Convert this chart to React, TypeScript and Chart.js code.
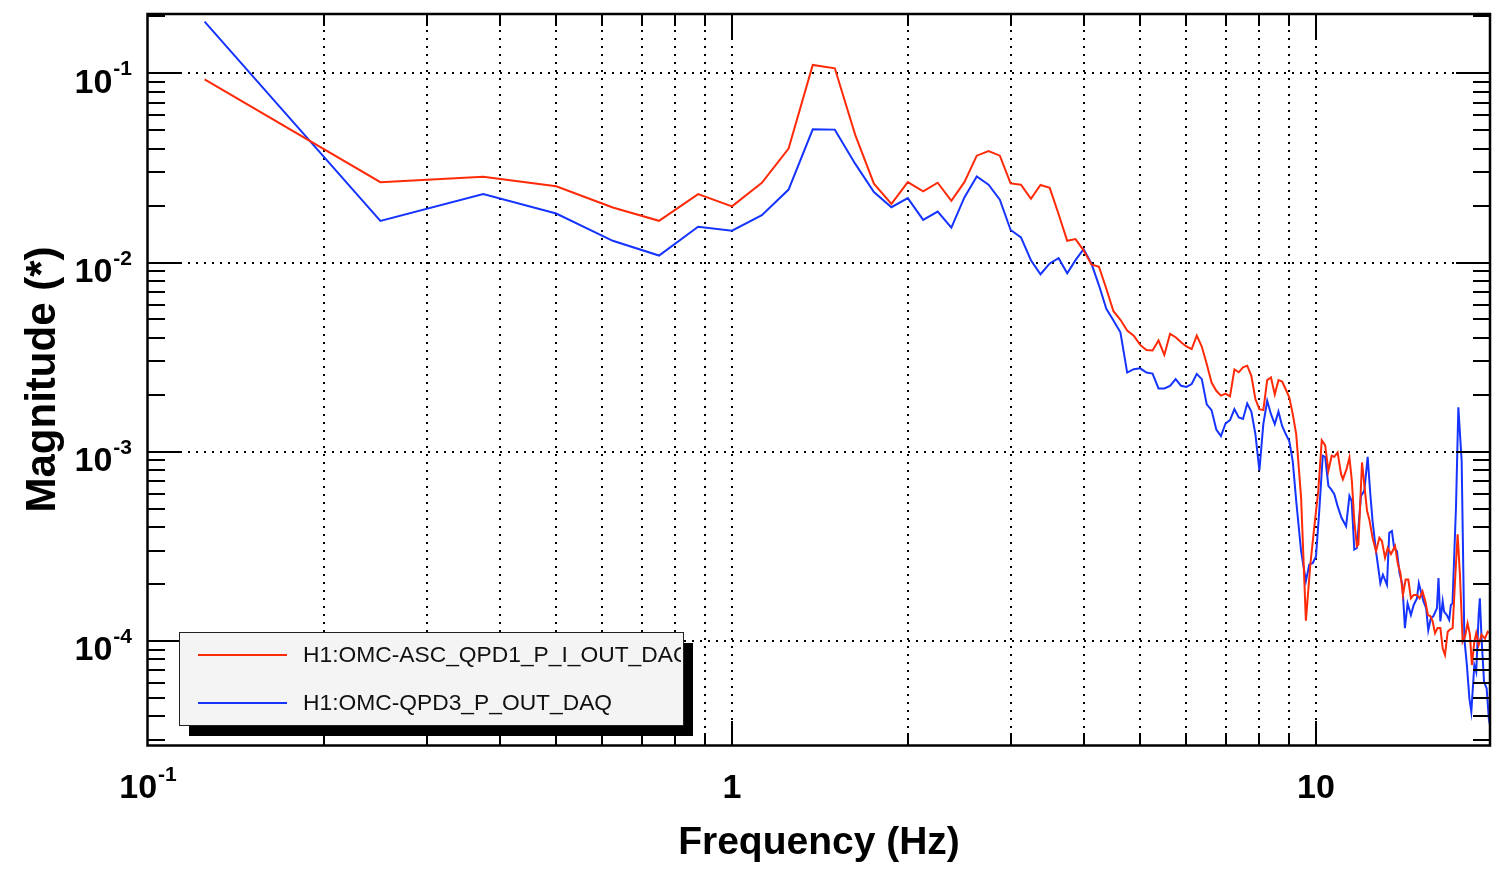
import React, { useEffect, useRef } from 'react';
import { Chart, registerables } from 'chart.js';

Chart.register(...registerables);

// ---------- data ----------
const lowFreq = [
  0.125, 0.25, 0.375, 0.5, 0.625, 0.75, 0.875, 1, 1.125, 1.25, 1.375, 1.5, 1.625, 1.75, 1.875, 2,
  2.125, 2.25, 2.375, 2.5, 2.625, 2.75, 2.875, 3, 3.125, 3.25, 3.375, 3.5, 3.625, 3.75, 3.875, 4,
  4.125, 4.25, 4.375, 4.5, 4.625, 4.75, 4.875, 5, 5.125, 5.25, 5.375, 5.5, 5.625, 5.75, 5.875, 6,
  6.125, 6.25, 6.375, 6.5, 6.625, 6.75, 6.875, 7, 7.125, 7.25, 7.375, 7.5, 7.625, 7.75, 7.875, 8,
  8.125, 8.25, 8.375, 8.5, 8.625, 8.75, 8.875, 9, 9.125, 9.25,
];

const redLowMag = [
  0.093, 0.0266, 0.0284, 0.0253, 0.01955, 0.01662, 0.023, 0.0198,
  0.0264, 0.04, 0.1107, 0.1063, 0.0474, 0.0261, 0.0204, 0.0266,
  0.0238, 0.0264, 0.0212, 0.0266, 0.0367, 0.0388, 0.0367, 0.0262,
  0.0258, 0.0217, 0.0257, 0.0248, 0.018, 0.01303, 0.0133, 0.0116,
  0.00976, 0.0095, 0.00727, 0.00553, 0.00498, 0.00437, 0.00411, 0.00367,
  0.00345, 0.00343, 0.00387, 0.00325, 0.0042, 0.00403, 0.00379, 0.0036,
  0.00349, 0.00411, 0.0036, 0.00291, 0.00232, 0.0021, 0.00198, 0.00203,
  0.00196, 0.00272, 0.00263, 0.00279, 0.00285, 0.00252, 0.0019, 0.00168,
  0.00166, 0.00239, 0.00247, 0.00201, 0.00239, 0.00235, 0.00214, 0.00194,
  0.00158, 0.00124,
];

const blueLowMag = [
  0.1877, 0.0166, 0.023, 0.01815, 0.01303, 0.01089, 0.01545, 0.01473,
  0.0178, 0.0243, 0.0506, 0.0504, 0.0333, 0.0236, 0.0196, 0.0219,
  0.0168, 0.0186, 0.0153, 0.0221, 0.0285, 0.0258, 0.0215, 0.01486,
  0.01358, 0.01028, 0.00867, 0.00989, 0.01054, 0.00877, 0.0103, 0.01177,
  0.0099, 0.00758, 0.0057, 0.00494, 0.00428, 0.00262, 0.00273, 0.00276,
  0.00262, 0.00259, 0.00216, 0.00216, 0.00223, 0.00242, 0.00223, 0.0022,
  0.00228, 0.00258, 0.00242, 0.00178, 0.00166, 0.00131, 0.00121, 0.00141,
  0.00147, 0.00168, 0.00152, 0.00149, 0.0018, 0.00163, 0.00124, 0.000796,
  0.0014, 0.00186, 0.00158, 0.0014, 0.00163, 0.00137, 0.00124, 0.00114,
  0.00089, 0.00055,
];

const redHighFreq = [
  9.43, 9.61, 9.78, 9.93, 10.09, 10.23, 10.37, 10.5, 10.64, 10.75, 10.89, 11.04, 11.12, 11.28,
  11.41, 11.52, 11.63, 11.75, 11.82, 11.99, 12.13, 12.23, 12.34, 12.5, 12.67, 12.84, 12.97, 13.13,
  13.27, 13.44, 13.66, 13.8, 13.95, 14.09, 14.24, 14.39, 14.54, 14.7, 14.89, 15.05, 15.22, 15.39,
  15.55, 15.71, 15.84, 15.99, 16.15, 16.33, 16.48, 16.63, 16.81, 16.96, 17.14, 17.3, 17.48, 17.64,
  17.83, 17.99, 18.18, 18.35, 18.49, 18.67, 18.81, 18.99, 19.21, 19.47, 19.68, 19.86, 20.0,
];
const redHighMag = [
  0.000572, 0.000128, 0.000254, 0.000396, 0.000621, 0.00115, 0.00108, 0.000792, 0.000953, 0.00094,
  0.000992, 0.000761, 0.000716, 0.000809, 0.000933, 0.000702, 0.00043, 0.000317, 0.000323, 0.000878,
  0.000621, 0.000487, 0.000439, 0.000351, 0.000298, 0.000351, 0.000337, 0.000275, 0.00031, 0.000288,
  0.000317, 0.000258, 0.000229, 0.000175, 0.000211, 0.000211, 0.000168, 0.000175, 0.000175, 0.000168,
  0.000183, 0.000162, 0.000137, 0.000135, 0.000127, 0.00011, 0.000117, 0.000117, 0.0000914, 0.0000843,
  0.000112, 0.000115, 0.000117, 0.000207, 0.000366, 0.000224, 0.0000992, 0.000105, 0.000124, 0.000108,
  0.0000746, 0.0000992, 0.00011, 0.0000953, 0.000108, 0.000103, 0.000112, 0.00011, 0.0000878,
];

const blueHighFreq = [
  9.43, 9.61, 9.74, 9.87, 10.0, 10.13, 10.27, 10.37, 10.5, 10.61, 10.75, 10.89, 11.06, 11.26,
  11.41, 11.51, 11.63, 11.75, 11.94, 12.1, 12.26, 12.39, 12.5, 12.67, 12.89, 13.02, 13.23, 13.35,
  13.49, 13.61, 13.76, 13.9, 14.06, 14.2, 14.35, 14.54, 14.7, 14.89, 15.0, 15.12, 15.28, 15.44,
  15.57, 15.73, 15.88, 16.11, 16.21, 16.33, 16.48, 16.57, 16.75, 16.91, 17.02, 17.13, 17.37, 17.53,
  17.76, 17.95, 18.13, 18.31, 18.45, 18.67, 18.81, 18.99, 19.08, 19.21, 19.4, 19.6, 19.77, 20.0,
];
const blueHighMag = [
  0.000298, 0.000207, 0.000254, 0.000258, 0.00028, 0.000487, 0.000953, 0.00094, 0.00066, 0.000634,
  0.000596, 0.000516, 0.000448, 0.000404, 0.000584, 0.000549, 0.000304, 0.00031, 0.000584, 0.000621,
  0.00094, 0.000596, 0.00043, 0.000298, 0.000202, 0.000224, 0.000198, 0.000373, 0.000381, 0.00031,
  0.000298, 0.000229, 0.000198, 0.000117, 0.000158, 0.000137, 0.000155, 0.000168, 0.000202, 0.000183,
  0.000162, 0.000149, 0.000114, 0.000132, 0.000135, 0.000149, 0.000215, 0.000127, 0.000162, 0.000143,
  0.000137, 0.000129, 0.000155, 0.000158, 0.000516, 0.00172, 0.000896, 0.000103, 0.0000746, 0.0000497,
  0.0000422, 0.0000746, 0.0000687, 0.000137, 0.000168, 0.000103, 0.0000608, 0.0000561, 0.0000388, 0.0000317,
];

const seriesNames = ['H1:OMC-ASC_QPD1_P_I_OUT_DAQ', 'H1:OMC-QPD3_P_OUT_DAQ'];
const xTitle = 'Frequency (Hz)';
const yTitle = 'Magnitude (*)';
const yTickExps = [-1, -2, -3, -4];
const xTickLabels = [
  { v: 0.1, base: '10', exp: '-1' },
  { v: 1, base: '1', exp: '' },
  { v: 10, base: '10', exp: '' },
];

const RED = 'rgb(255, 42, 8)';
const BLUE = 'rgb(22, 52, 255)';
const FONT = "'Liberation Sans', Arial, Helvetica, sans-serif";

const X_MIN = 0.1;
const X_MAX = 19.86;
const Y_MIN = 2.82e-5;
const Y_MAX = 0.2058;

function toPoints(fs: number[], ms: number[]) {
  return fs.map((f, i) => ({ x: f, y: ms[i] }));
}

function minorList(lo: number, hi: number) {
  const out: number[] = [];
  for (let e = -6; e <= 3; e++) {
    for (let m = 2; m <= 9; m++) {
      const v = m * Math.pow(10, e);
      if (v > lo * 1.0001 && v < hi * 0.9999) out.push(v);
    }
  }
  return out;
}

const decoPlugin = {
  id: 'deco',
  beforeDatasetsDraw(chart: any) {
    const { ctx, chartArea: a, scales } = chart;
    const x = scales.x;
    const y = scales.y;
    ctx.save();
    ctx.strokeStyle = '#000';
    ctx.lineWidth = 2;
    ctx.setLineDash([2, 6]);
    const xs = minorList(X_MIN, X_MAX).concat([1, 10]);
    for (const v of xs) {
      const px = Math.round(x.getPixelForValue(v));
      ctx.beginPath();
      ctx.moveTo(px, a.top);
      ctx.lineTo(px, a.bottom);
      ctx.stroke();
    }
    for (const e of yTickExps) {
      const py = Math.round(y.getPixelForValue(Math.pow(10, e)));
      ctx.beginPath();
      ctx.moveTo(a.left, py);
      ctx.lineTo(a.right, py);
      ctx.stroke();
    }
    ctx.restore();
  },
  afterDatasetsDraw(chart: any) {
    const { ctx, chartArea: a, scales } = chart;
    const x = scales.x;
    const y = scales.y;
    ctx.save();
    ctx.setLineDash([]);
    ctx.strokeStyle = '#000';
    ctx.lineWidth = 2;

    const tick = (x0: number, y0: number, x1: number, y1: number) => {
      ctx.beginPath();
      ctx.moveTo(x0, y0);
      ctx.lineTo(x1, y1);
      ctx.stroke();
    };
    // tick marks on x (bottom & top)
    for (const v of minorList(X_MIN, X_MAX)) {
      const px = Math.round(x.getPixelForValue(v));
      tick(px, a.bottom, px, a.bottom - 12);
      tick(px, a.top, px, a.top + 12);
    }
    for (const v of [1, 10]) {
      const px = Math.round(x.getPixelForValue(v));
      tick(px, a.bottom, px, a.bottom - 24);
      tick(px, a.top, px, a.top + 24);
    }
    // tick marks on y (left & right)
    for (const v of minorList(Y_MIN, Y_MAX)) {
      const py = Math.round(y.getPixelForValue(v));
      tick(a.left, py, a.left + 17, py);
      tick(a.right, py, a.right - 17, py);
    }
    for (const e of yTickExps) {
      const py = Math.round(y.getPixelForValue(Math.pow(10, e)));
      tick(a.left, py, a.left + 34, py);
      tick(a.right, py, a.right - 34, py);
    }

    // frame
    ctx.lineWidth = 2.5;
    ctx.strokeRect(a.left - 0.5, a.top, a.right - a.left + 0.5, a.bottom - a.top + 0.5);

    // tick labels
    ctx.fillStyle = '#000';
    ctx.textBaseline = 'alphabetic';
    const baseFont = `bold 34px ${FONT}`;
    const supFont = `bold 21px ${FONT}`;
    for (const e of yTickExps) {
      const py = y.getPixelForValue(Math.pow(10, e));
      const exp = String(e);
      ctx.font = supFont;
      const ws = ctx.measureText(exp).width;
      const right = 132;
      ctx.textAlign = 'left';
      ctx.fillText(exp, right - ws, py + 2);
      ctx.font = baseFont;
      ctx.textAlign = 'right';
      ctx.fillText('10', right - ws - 1, py + 19.5);
    }
    for (const t of xTickLabels) {
      const px = x.getPixelForValue(t.v);
      ctx.font = baseFont;
      const wb = ctx.measureText(t.base).width;
      ctx.font = supFont;
      const ws = t.exp ? ctx.measureText(t.exp).width + 1 : 0;
      const start = px - (wb + ws) / 2;
      ctx.textAlign = 'left';
      ctx.font = baseFont;
      ctx.fillText(t.base, start, 798);
      if (t.exp) {
        ctx.font = supFont;
        ctx.fillText(t.exp, start + wb + 1, 781);
      }
    }

    // axis titles
    ctx.font = `bold 39px ${FONT}`;
    ctx.textAlign = 'center';
    ctx.fillText(xTitle, (a.left + a.right) / 2, 854);
    ctx.save();
    ctx.font = `bold 42px ${FONT}`;
    ctx.translate(55, (a.top + a.bottom) / 2);
    ctx.rotate(-Math.PI / 2);
    ctx.fillText(yTitle, 0, 0);
    ctx.restore();

    // legend
    const bx = 179, by = 632, bw = 504, bh = 93;
    ctx.fillStyle = '#000';
    ctx.fillRect(bx + 10, by + 11, bw, bh);
    ctx.fillStyle = '#f4f4f4';
    ctx.fillRect(bx, by, bw, bh);
    ctx.lineWidth = 1;
    ctx.strokeStyle = '#222';
    ctx.strokeRect(bx + 0.5, by + 0.5, bw, bh);
    const rows = [
      { y: 655, color: RED, name: seriesNames[0] },
      { y: 703, color: BLUE, name: seriesNames[1] },
    ];
    ctx.lineWidth = 2;
    for (const r of rows) {
      ctx.strokeStyle = r.color;
      ctx.beginPath();
      ctx.moveTo(198, r.y);
      ctx.lineTo(287, r.y);
      ctx.stroke();
    }
    ctx.save();
    ctx.beginPath();
    ctx.rect(bx + 1, by + 1, bw - 3, bh - 2);
    ctx.clip();
    ctx.fillStyle = '#111';
    ctx.font = `22.8px ${FONT}`;
    ctx.textAlign = 'left';
    ctx.textBaseline = 'middle';
    for (const r of rows) {
      ctx.fillText(r.name, 303, r.y + 1);
    }
    ctx.restore();

    ctx.restore();
  },
};

export default function App() {
  const ref = useRef<HTMLCanvasElement>(null);
  useEffect(() => {
    const canvas = ref.current;
    if (!canvas) return;
    const chart = new Chart(canvas, {
      type: 'line',
      data: {
        datasets: [
          {
            label: seriesNames[0],
            data: toPoints(lowFreq, redLowMag).concat(toPoints(redHighFreq, redHighMag)),
            borderColor: RED,
            borderWidth: 2,
            pointRadius: 0,
            fill: false,
            tension: 0,
          },
          {
            label: seriesNames[1],
            data: toPoints(lowFreq, blueLowMag).concat(toPoints(blueHighFreq, blueHighMag)),
            borderColor: BLUE,
            borderWidth: 2,
            pointRadius: 0,
            fill: false,
            tension: 0,
          },
        ],
      },
      options: {
        responsive: false,
        animation: false,
        devicePixelRatio: 1,
        layout: { padding: { left: 0, top: 14, right: 13, bottom: 0 } },
        plugins: { legend: { display: false }, tooltip: { enabled: false } },
        scales: {
          x: {
            type: 'logarithmic',
            min: X_MIN,
            max: X_MAX,
            grid: { display: false },
            border: { display: false },
            ticks: { display: false },
            afterFit: (s: any) => {
              s.height = 125;
            },
          },
          y: {
            type: 'logarithmic',
            min: Y_MIN,
            max: Y_MAX,
            grid: { display: false },
            border: { display: false },
            ticks: { display: false },
            afterFit: (s: any) => {
              s.width = 148;
            },
          },
        },
      } as any,
      plugins: [decoPlugin],
    });
    return () => chart.destroy();
  }, []);
  return (
    <div style={{ position: 'fixed', left: 0, top: 0, width: 1503, height: 870, background: '#fff' }}>
      <canvas ref={ref} width={1503} height={870} style={{ width: 1503, height: 870, display: 'block' }} />
    </div>
  );
}
